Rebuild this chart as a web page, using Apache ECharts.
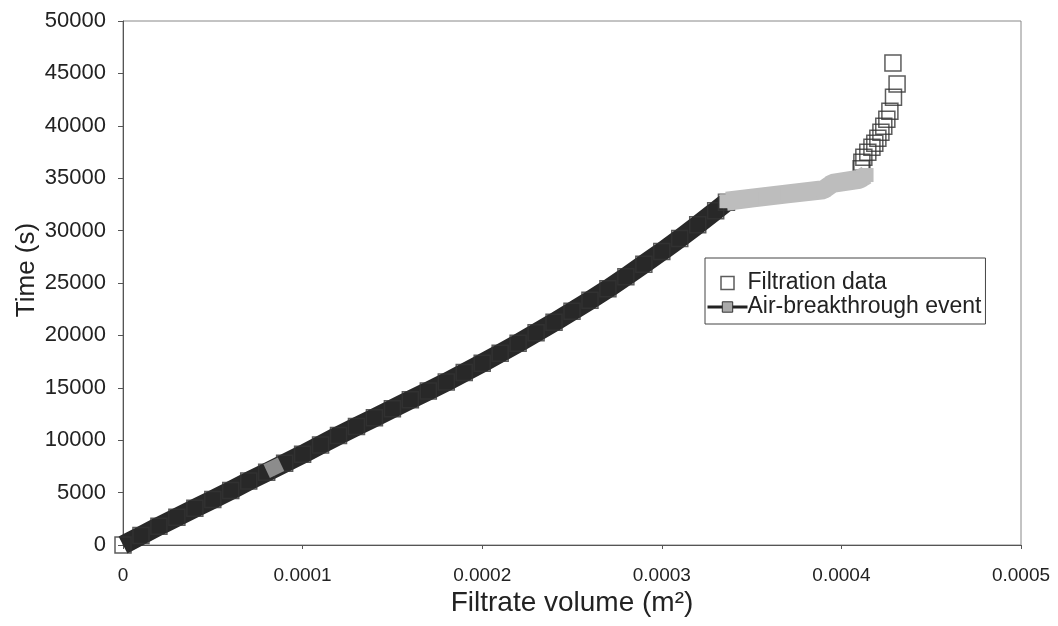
<!DOCTYPE html>
<html>
<head>
<meta charset="utf-8">
<script src="https://cdn.jsdelivr.net/npm/echarts@6/dist/echarts.min.js"></script>
<style>
html,body{margin:0;padding:0;background:#fff;}
#chart{width:1058px;height:626px;}
</style>
</head>
<body>
<div id="chart"></div>
<script>
// Filtration data: dense part
const filtV = [0, 0.00001, 0.00002, 0.00003, 0.00004, 0.00005, 0.00006, 0.00007, 0.00008, 0.00009,
  0.0001, 0.00011, 0.00012, 0.00013, 0.00014, 0.00015, 0.00016, 0.00017, 0.00018, 0.00019,
  0.0002, 0.00021, 0.00022, 0.00023, 0.00024, 0.00025, 0.00026, 0.00027, 0.00028, 0.00029,
  0.0003, 0.00031, 0.00032, 0.00033, 0.000336];
const filtT = [0, 900, 1800, 2650, 3500, 4350, 5200, 6100, 6950, 7800,
  8650, 9550, 10450, 11300, 12150, 13000, 13850, 14700, 15550, 16450,
  17350, 18300, 19250, 20250, 21250, 22300, 23350, 24450, 25600, 26800,
  28000, 29250, 30550, 31900, 32700];
// Filtration data: after air breakthrough
const tailV = [0.000411, 0.0004114, 0.0004125, 0.0004147, 0.000417, 0.0004186, 0.0004203, 0.000422,
  0.0004236, 0.0004253, 0.000427, 0.000429, 0.000431, 0.0004287];
const tailT = [35900, 36520, 37000, 37480, 37950, 38340, 38810, 39390,
  39960, 40630, 41400, 42730, 43980, 45990];
// Air-breakthrough event
const airV = [0.000336, 0.00035, 0.00037, 0.00039, 0.000395, 0.00041, 0.000414];
const airT = [32800, 33100, 33500, 33900, 34500, 34900, 35300];
const airEarlyV = [0.00008, 0.000088];
const airEarlyT = [7050, 7700];

const xTicks = [0, 0.0001, 0.0002, 0.0003, 0.0004, 0.0005];
const yTicks = [0, 5000, 10000, 15000, 20000, 25000, 30000, 35000, 40000, 45000, 50000];

const zip = (a, b) => a.map((v, i) => [v, b[i]]);
const filtAll = zip(filtV, filtT).concat(zip(tailV, tailT));

const font = "'Liberation Sans', Arial, sans-serif";
const chart = echarts.init(document.getElementById('chart'), null, {renderer: 'canvas'});
chart.setOption({
  animation: false,
  backgroundColor: '#fff',
  grid: {left: 123, right: 37, top: 21, bottom: 81, show: true, borderColor: '#888', borderWidth: 1, backgroundColor: 'transparent'},
  xAxis: {
    type: 'value', min: xTicks[0], max: xTicks[xTicks.length - 1], interval: 0.0001,
    name: 'Filtrate volume (m²)', nameLocation: 'middle', nameGap: 44, nameMoveOverlap: false,
    nameTextStyle: {fontFamily: font, fontSize: 28, color: '#222'},
    axisLine: {show: true, lineStyle: {color: '#555', width: 1}},
    axisTick: {show: true, length: 4, inside: false, lineStyle: {color: '#555'}},
    axisLabel: {fontFamily: font, fontSize: 19, color: '#222', margin: 21,
      formatter: v => (v === 0 ? '0' : String(+v.toFixed(4)))},
    splitLine: {show: false}
  },
  yAxis: {
    type: 'value', min: yTicks[0], max: yTicks[yTicks.length - 1], interval: 5000,
    name: 'Time (s)', nameLocation: 'middle', nameGap: 83, nameRotate: 90, nameMoveOverlap: false,
    nameTextStyle: {fontFamily: font, fontSize: 26, color: '#222', padding: [0, 0, 0, 26]},
    axisLine: {show: true, lineStyle: {color: '#555', width: 1}},
    axisTick: {show: true, length: 5, inside: false, lineStyle: {color: '#555'}},
    axisLabel: {fontFamily: font, fontSize: 22, color: '#222', margin: 17, formatter: v => String(v)},
    splitLine: {show: false}
  },
  legend: {
    orient: 'vertical', left: 705, top: 258,
    backgroundColor: '#fff', borderColor: '#444', borderWidth: 1,
    padding: [13, 4, 5, 1], itemGap: 0, itemWidth: 40, itemHeight: 13,
    textStyle: {fontFamily: font, fontSize: 23, color: '#222', lineHeight: 24, padding: [0, 0, 0, -5]},
    data: [
      {name: 'Filtration data', icon: 'path://M0,0h10v10h-10z', itemStyle: {color: '#fff', borderColor: '#333', borderWidth: 1.5}},
      {name: 'Air-breakthrough event', itemStyle: {color: '#aaa', borderColor: '#333', borderWidth: 1}, lineStyle: {color: '#222', width: 3}}
    ]
  },
  series: [
    {
      name: 'band', type: 'line', data: zip(filtV, filtT), symbol: 'none', silent: true,
      lineStyle: {color: '#282828', width: 19, cap: 'butt'}, z: 1, clip: false
    },
    {
      name: 'Filtration data', type: 'scatter', data: filtAll, symbol: 'rect', symbolSize: 16,
      itemStyle: {color: 'rgba(0,0,0,0)', borderColor: '#333', borderWidth: 1.5}, z: 2, clip: false
    },
    {
      name: 'Air-breakthrough event', type: 'line', data: zip(airV, airT),
      symbol: 'rect', symbolSize: 14, showSymbol: true,
      itemStyle: {color: '#bdbdbd', borderWidth: 0},
      lineStyle: {color: '#bdbdbd', width: 19, cap: 'butt'}, z: 3, clip: false
    },
    {
      name: 'Air-breakthrough event', type: 'line', data: zip(airEarlyV, airEarlyT),
      symbol: 'none', silent: true,
      lineStyle: {color: '#8c8c8c', width: 15, cap: 'butt'}, z: 3, clip: false
    }
  ]
});
</script>
</body>
</html>
